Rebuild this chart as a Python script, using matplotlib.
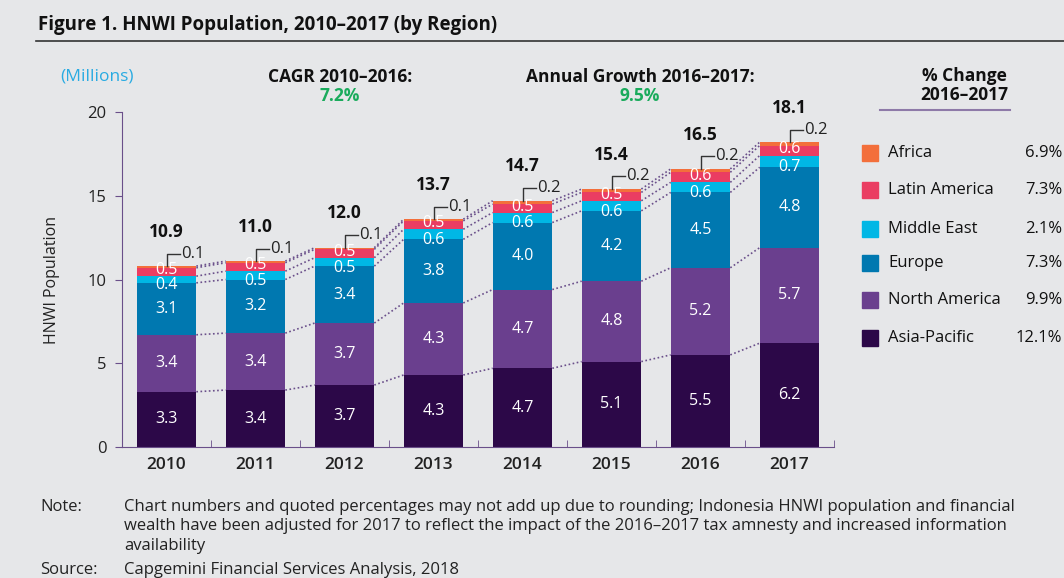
import matplotlib.pyplot as plt
from matplotlib.patches import Rectangle
from matplotlib.lines import Line2D
import numpy as np

plt.rcParams['font.family'] = ['Open Sans', 'DejaVu Sans']

years = ['2010', '2011', '2012', '2013', '2014', '2015', '2016', '2017']
regions = ['Asia-Pacific', 'North America', 'Europe', 'Middle East', 'Latin America', 'Africa']
asia_pacific = [3.3, 3.4, 3.7, 4.3, 4.7, 5.1, 5.5, 6.2]
north_america = [3.4, 3.4, 3.7, 4.3, 4.7, 4.8, 5.2, 5.7]
europe = [3.1, 3.2, 3.4, 3.8, 4.0, 4.2, 4.5, 4.8]
middle_east = [0.4, 0.5, 0.5, 0.6, 0.6, 0.6, 0.6, 0.7]
latin_america = [0.5, 0.5, 0.5, 0.5, 0.5, 0.5, 0.6, 0.6]
africa = [0.1, 0.1, 0.1, 0.1, 0.2, 0.2, 0.2, 0.2]
totals = [10.9, 11.0, 12.0, 13.7, 14.7, 15.4, 16.5, 18.1]
pct_change = ['12.1%', '9.9%', '7.3%', '2.1%', '7.3%', '6.9%']

colors = ['#2c0848', '#6a3f8e', '#0078b0', '#00b7e5', '#ea3d62', '#f36f3b']
bg = '#e6e7e9'
line_col = '#6a4f8a'

series = [asia_pacific, north_america, europe, middle_east, latin_america, africa]
label_shift = [0, 0, 0, -0.35, 0.1, 0]

fig = plt.figure(figsize=(10.64, 5.78), dpi=100, facecolor=bg)
ax = fig.add_axes([122 / 1064, 131 / 578, 712 / 1064, 335 / 578], facecolor=bg)

x = np.arange(len(years))
w = 0.67
bottom = np.zeros(len(years))
tops = []
for k, vals in enumerate(series):
    vals = np.array(vals)
    ax.bar(x, vals, w, bottom=bottom, color=colors[k], edgecolor='none', zorder=2)
    if k < 5:
        for i in range(len(years)):
            ax.text(x[i], bottom[i] + vals[i] / 2 + label_shift[k], f'{vals[i]:.1f}', color='white',
                    ha='center', va='center', fontsize=11.5, zorder=3)
    bottom = bottom + vals
    tops.append(bottom.copy())

# dotted connectors between bars
for t in tops:
    for i in range(len(years) - 1):
        ax.plot([x[i] + w / 2, x[i + 1] - w / 2], [t[i], t[i + 1]], color=line_col,
                linestyle=(0, (1, 1.5)), linewidth=1.2, zorder=1)

# Africa brackets and totals
for i in range(len(years)):
    t = tops[-1][i]
    ax.plot([x[i], x[i], x[i] + 0.15], [t, t + 0.75, t + 0.75], color='#333333', lw=1, zorder=3)
    ax.text(x[i] + 0.16, t + 0.75, f'{africa[i]:.1f}', ha='left', va='center', fontsize=12,
            color='#222222')
    ax.text(x[i], t + 2.05, f'{totals[i]:.1f}', ha='center', va='center', fontsize=12.5,
            fontweight='bold', color='#111111')

ax.set_xlim(-0.5, 7.5)
ax.set_ylim(0, 20)
ax.set_yticks([0, 5, 10, 15, 20])
ax.set_xticks(x)
ax.set_xticklabels(years, fontsize=12.5, fontweight='semibold', color='#222222')
ax.set_xticks(np.arange(-0.5, 8, 1), minor=True)
ax.tick_params(axis='x', which='major', length=0, pad=7)
ax.tick_params(axis='x', which='minor', length=5, color=line_col, direction='in')
ax.tick_params(axis='y', length=5, color=line_col, labelsize=12, labelcolor='#222222', pad=6)
for s in ['top', 'right']:
    ax.spines[s].set_visible(False)
ax.spines['left'].set_color(line_col)
ax.spines['bottom'].set_color(line_col)
ax.set_ylabel('HNWI Population', fontsize=11.5, color='#222222', labelpad=20)

# header texts
fig.text(38 / 1064, 1 - 25 / 578, 'Figure 1. HNWI Population, 2010\u20132017 (by Region)',
         fontsize=13.5, fontweight='bold', va='center', ha='left', color='#111111')
fig.add_artist(Line2D([36 / 1064, 1], [1 - 41 / 578] * 2, color='#333333', lw=1.2))
fig.text(97 / 1064, 1 - 77 / 578, '(Millions)', color='#29abe2', fontsize=12.5, ha='center', va='center')
fig.text(340 / 1064, 1 - 77 / 578, 'CAGR 2010\u20132016:', fontsize=12.5, fontweight='bold',
         ha='center', va='center', color='#111111')
fig.text(340 / 1064, 1 - 96 / 578, '7.2%', fontsize=12.5, fontweight='bold', ha='center',
         va='center', color='#1aab5c')
fig.text(640 / 1064, 1 - 77 / 578, 'Annual Growth 2016\u20132017:', fontsize=12.5, fontweight='bold',
         ha='center', va='center', color='#111111')
fig.text(640 / 1064, 1 - 96 / 578, '9.5%', fontsize=12.5, fontweight='bold', ha='center',
         va='center', color='#1aab5c')
fig.text(964 / 1064, 1 - 76 / 578, '% Change', fontsize=12.5, fontweight='bold', ha='center',
         va='center', color='#111111')
fig.text(964 / 1064, 1 - 95 / 578, '2016\u20132017', fontsize=12.5, fontweight='bold', ha='center',
         va='center', color='#111111')
fig.add_artist(Line2D([880 / 1064, 1010 / 1064], [1 - 110 / 578] * 2, color='#8e7aa8', lw=1.5))

# legend (top to bottom: Africa ... Asia-Pacific)
row_y = [338, 300, 263, 229, 190, 153]
for k in range(len(regions)):
    yy = 1 - row_y[k] / 578
    fig.add_artist(Rectangle((862 / 1064, yy - 8 / 578), 16 / 1064, 16 / 578,
                             transform=fig.transFigure, color=colors[k]))
    fig.text(888 / 1064, yy, regions[k], fontsize=12, va='center', ha='left', color='#111111')
    fig.text(1062 / 1064, yy, pct_change[k], fontsize=12, va='center', ha='right', color='#111111')

# notes
note = ('Chart numbers and quoted percentages may not add up due to rounding; Indonesia HNWI population and financial\n'
        'wealth have been adjusted for 2017 to reflect the impact of the 2016\u20132017 tax amnesty and increased information\n'
        'availability')
fig.text(40 / 1064, 1 - 499 / 578, 'Note:', fontsize=12, va='top', ha='left', color='#222222')
fig.text(124 / 1064, 1 - 499 / 578, note, fontsize=12, va='top', ha='left', color='#222222',
         linespacing=1.28)
fig.text(40 / 1064, 1 - 570 / 578, 'Source:', fontsize=12, va='center', ha='left', color='#222222')
fig.text(124 / 1064, 1 - 570 / 578, 'Capgemini Financial Services Analysis, 2018', fontsize=12,
         va='center', ha='left', color='#222222')

fig.savefig('out.png', dpi=100, facecolor=bg)
